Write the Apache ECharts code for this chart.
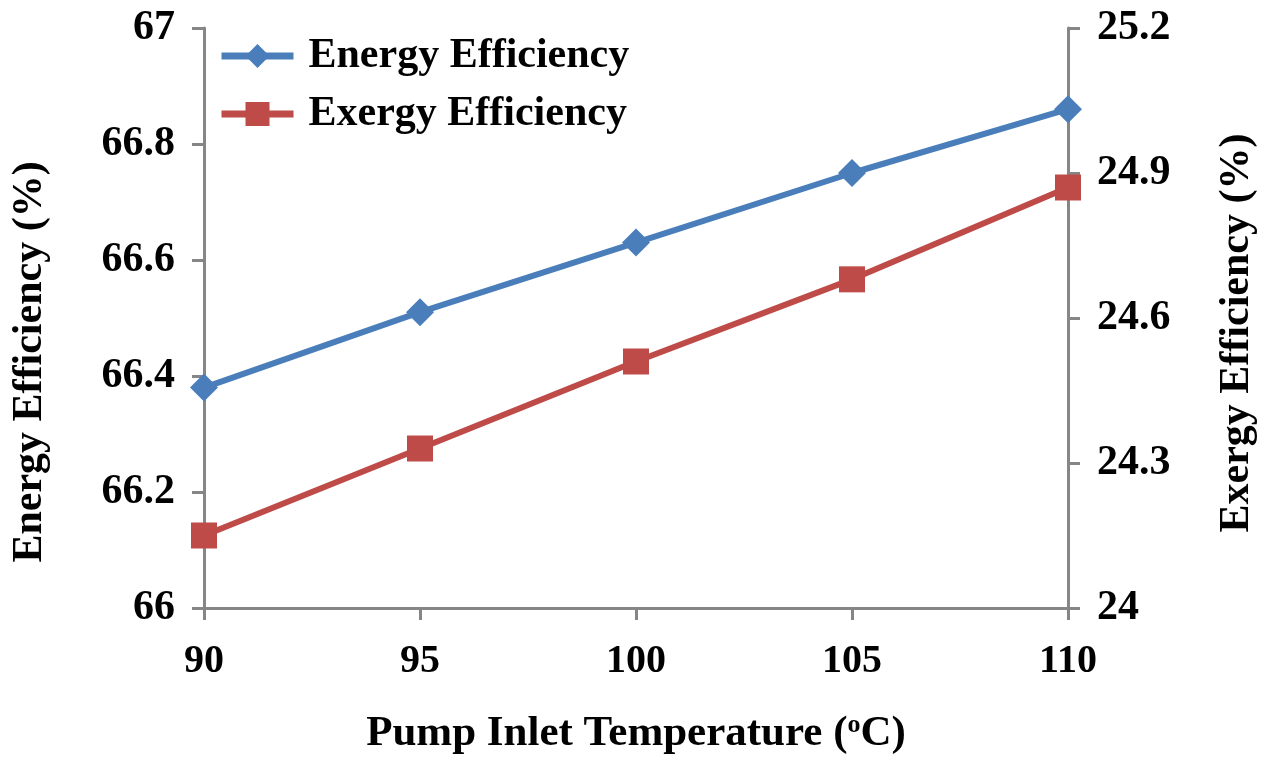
<!DOCTYPE html>
<html>
<head>
<meta charset="utf-8">
<script src="https://cdn.jsdelivr.net/npm/echarts@6/dist/echarts.min.js"></script>
<style>html,body{margin:0;padding:0;background:#fff;}#c{width:1265px;height:760px;}</style>
</head>
<body>
<div id="c"></div>
<script>
const categories = ['90', '95', '100', '105', '110'];
const energyEff = [66.38, 66.51, 66.63, 66.75, 66.86];
const exergyEff = [24.15, 24.33, 24.51, 24.68, 24.87];
const leftTicks = { min: 66, max: 67, interval: 0.2 };
const rightTicks = { min: 24, max: 25.2, interval: 0.3 };

const FONT = '"Liberation Serif", "Times New Roman", serif';
const AX = '#868686';
const BLUE = '#4A7EBB';
const RED = '#BE4B48';
const chart = echarts.init(document.getElementById('c'));
chart.setOption({
  backgroundColor: '#fff',
  animation: false,
  grid: { left: 204, right: 197, top: 28, bottom: 152, outerBoundsMode: 'none', containLabel: false },
  legend: {
    orient: 'vertical', left: 213, top: 30, itemGap: 16,
    itemWidth: 72, itemHeight: 30,
    lineStyle: { width: 7 },
    textStyle: { fontFamily: FONT, fontWeight: 'bold', fontSize: 42, color: '#000', padding: [0,0,0,10] },
    data: ['Energy Efficiency', 'Exergy Efficiency']
  },
  xAxis: {
    type: 'category', data: categories, boundaryGap: false,
    name: 'Pump Inlet Temperature ({sup|o}C)', nameLocation: 'middle', nameGap: 104,
    nameTextStyle: { fontFamily: FONT, fontWeight: 'bold', fontSize: 43, color: '#000',
      rich: { sup: { fontFamily: FONT, fontWeight: 'bold', fontSize: 26, color: '#000', verticalAlign: 'top', padding: [0,0,16,0] } } },
    axisLine: { lineStyle: { color: AX, width: 3 } },
    axisTick: { show: true, length: 12, alignWithLabel: true, lineStyle: { color: AX, width: 3 } },
    axisLabel: { fontFamily: FONT, fontWeight: 'bold', fontSize: 40, color: '#000', margin: 34 },
    splitLine: { show: false }
  },
  yAxis: [{
    type: 'value', min: leftTicks.min, max: leftTicks.max, interval: leftTicks.interval, position: 'left',
    name: 'Energy Efficiency (%)', nameLocation: 'middle', nameGap: 153, nameRotate: 90,
    nameTextStyle: { fontFamily: FONT, fontWeight: 'bold', fontSize: 42, color: '#000', padding: [0, 88, 0, 0] },
    axisLine: { show: true, lineStyle: { color: AX, width: 3 } },
    axisTick: { show: true, length: 12, lineStyle: { color: AX, width: 3 } },
    axisLabel: { fontFamily: FONT, fontWeight: 'bold', fontSize: 42, color: '#000', margin: 29,
      formatter: v => String(Math.round(v * 10) / 10) },
    splitLine: { show: false }
  }, {
    type: 'value', min: rightTicks.min, max: rightTicks.max, interval: rightTicks.interval, position: 'right',
    name: 'Exergy Efficiency (%)', nameLocation: 'middle', nameGap: 148, nameRotate: 90,
    nameTextStyle: { fontFamily: FONT, fontWeight: 'bold', fontSize: 42, color: '#000', padding: [0, 30, 0, 0] },
    axisLine: { show: true, lineStyle: { color: AX, width: 3 } },
    axisTick: { show: true, length: 12, lineStyle: { color: AX, width: 3 } },
    axisLabel: { fontFamily: FONT, fontWeight: 'bold', fontSize: 42, color: '#000', margin: 29,
      formatter: v => String(Math.round(v * 10) / 10) },
    splitLine: { show: false }
  }],
  series: [{
    name: 'Energy Efficiency', type: 'line', yAxisIndex: 0, data: energyEff,
    symbol: 'diamond', symbolSize: 28,
    lineStyle: { color: BLUE, width: 6 }, itemStyle: { color: BLUE }
  }, {
    name: 'Exergy Efficiency', type: 'line', yAxisIndex: 1, data: exergyEff,
    symbol: 'rect', symbolSize: 26,
    lineStyle: { color: RED, width: 6 }, itemStyle: { color: RED }
  }]
});
</script>
</body>
</html>
